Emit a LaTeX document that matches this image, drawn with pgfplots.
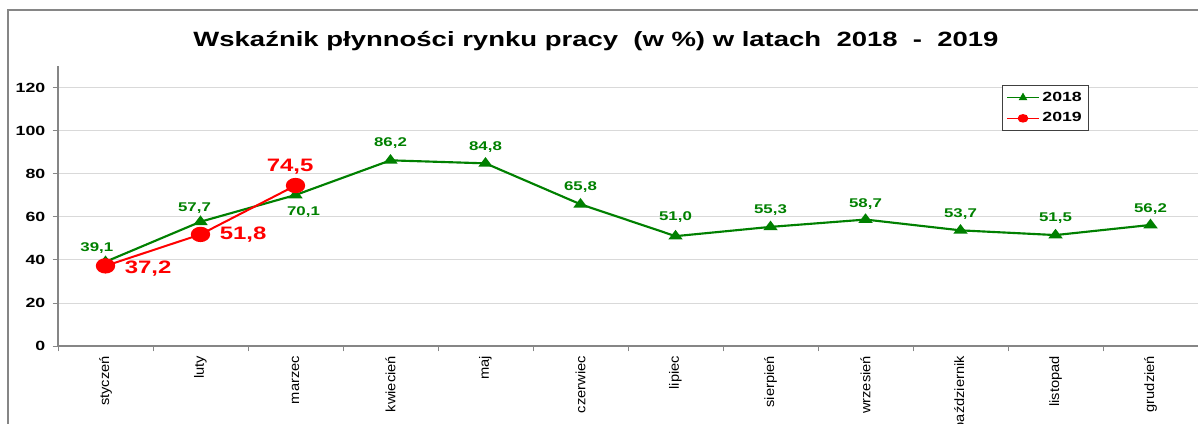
\documentclass[border=0pt]{standalone}
\usepackage{fontspec}
\setmainfont{Liberation Sans}
\usepackage{graphicx}
\usepackage{pgfplots}
\usepackage{pgfplotstable}
\pgfplotsset{compat=1.18}
\definecolor{cgreen}{HTML}{008000}
\definecolor{cred}{HTML}{FF0000}
\definecolor{cgrid}{HTML}{D9D9D9}
\definecolor{caxis}{HTML}{868686}
\newcommand{\sx}[1]{\scalebox{1.33}[1]{#1}}
\newcommand{\xl}[1]{\scalebox{1}[0.92]{#1}}

% x, value, label shift (pt)
\pgfplotstableread{
x y dx dy
0 39.1 -6.5 10.5
1 57.7 -4.5 10.5
2 70.1 6 -12.5
3 86.2 0 13
4 84.8 0 12.5
5 65.8 0 13
6 51.0 0 14
7 55.3 0 12.5
8 58.7 0 11.5
9 53.7 0 12.5
10 51.5 0 13
11 56.2 0 12
}\dataA
\pgfplotstableread{
x y dx dy
0 37.2 32 -2
1 51.8 32 0
2 74.5 -4 14
}\dataB

\begin{document}
\begin{tikzpicture}
\path[use as bounding box, clip] (0,0) rectangle (898.5pt,318pt);
\draw[caxis, line width=0.8pt] (6pt,-20pt) rectangle (930pt,310.5pt);

\begin{axis}[
  at={(43.5pt,58.5pt)}, anchor=south west,
  scale only axis, width=855pt, height=210pt,
  xmin=-0.5, xmax=11.5, ymin=0, ymax=130,
  axis lines*=left,
  axis line style={caxis, line width=0.8pt},
  tick align=outside, major tick length=4pt,
  tick style={caxis, line width=0.6pt},
  ytick={0,20,...,120},
  ymajorgrids, grid style={cgrid, line width=0.6pt},
  yticklabel style={font=\fontsize{10}{11}\selectfont\bfseries, xshift=-2pt},
  yticklabel={\sx{\pgfmathprintnumber[assume math mode=true]{\tick}}},
  xtick={-0.5,0.5,...,11.5},
  x tick label as interval,
  xticklabels={\xl{styczeń},\xl{luty},\xl{marzec},\xl{kwiecień},\xl{maj},\xl{czerwiec},\xl{lipiec},\xl{sierpień},\xl{wrzesień},\xl{październik},\xl{listopad},\xl{grudzień}},
  x tick label style={rotate=90, anchor=east, font=\fontsize{11}{12}\selectfont},
  legend style={at={(0.828,0.932)}, anchor=north west, draw=black!75, line width=0.5pt,
    font=\fontsize{10}{11}\selectfont\bfseries, inner xsep=3pt, inner ysep=3pt, row sep=3pt},
  legend cell align=left,
  legend image code/.code={\draw[mark repeat=2, mark phase=2] plot coordinates {(0cm,0cm) (0.42cm,0cm) (0.84cm,0cm)};},
]
\addplot[cgreen, line width=1.6pt, mark=triangle*, mark size=3.4pt, mark options={xscale=1.3},
  forget plot,
  visualization depends on={\thisrow{dx} \as \dx},
  visualization depends on={\thisrow{dy} \as \dy},
  nodes near coords={\sx{\pgfmathprintnumber[fixed, fixed zerofill, precision=1, use comma, assume math mode=true]{\pgfplotspointmeta}}},
  every node near coord/.append style={anchor=center, xshift=\dx pt, yshift=\dy pt,
    text=cgreen, font=\fontsize{9.5}{10}\selectfont\bfseries},
] table[x=x, y=y] {\dataA};

\addplot[cred, line width=1.5pt, mark=*, mark size=5pt, mark options={xscale=1.3},
  forget plot,
  visualization depends on={\thisrow{dx} \as \dx},
  visualization depends on={\thisrow{dy} \as \dy},
  nodes near coords={\sx{\pgfmathprintnumber[fixed, fixed zerofill, precision=1, use comma, assume math mode=true]{\pgfplotspointmeta}}},
  every node near coord/.append style={anchor=center, xshift=\dx pt, yshift=\dy pt,
    text=cred, font=\fontsize{13.5}{14}\selectfont\bfseries},
] table[x=x, y=y] {\dataB};

\addlegendimage{cgreen, line width=1.2pt, mark=triangle*, mark size=2.6pt}
\addlegendentry{\sx{2018}}
\addlegendimage{cred, line width=1.2pt, mark=*, mark size=2.6pt, mark options={xscale=1.3}}
\addlegendentry{\sx{2019}}
\end{axis}

\node[font=\fontsize{15.5}{17}\selectfont\bfseries] at (447pt,287pt)
  {\sx{Wskaźnik płynności rynku pracy\ \ (w \%) w latach\ \ 2018\ \ -\ \ 2019}};
\end{tikzpicture}
\end{document}
